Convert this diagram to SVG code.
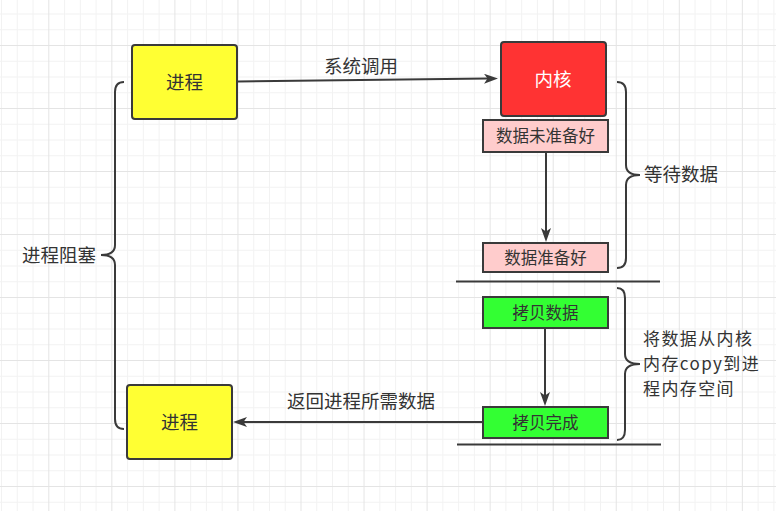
<svg xmlns="http://www.w3.org/2000/svg" width="776" height="511" viewBox="0 0 776 511">
<style>
text{font-family:"Noto Sans CJK SC","Microsoft YaHei",sans-serif;fill:#333333;}
.big{font-size:18.5px;}
.multi{font-size:17px;letter-spacing:1.4px;}
.small{font-size:16.5px;}
.box{stroke:#3a3a3a;stroke-width:2;}
.line{stroke:#3a3a3a;stroke-width:2;fill:none;}
</style>
<defs>
<pattern id="grid" patternUnits="userSpaceOnUse" x="-14.75" y="-18" width="63.05" height="63">
<rect x="15.76" y="0" width="1" height="63" fill="#f2f2f2"/>
<rect x="31.52" y="0" width="1" height="63" fill="#f2f2f2"/>
<rect x="47.28" y="0" width="1" height="63" fill="#f2f2f2"/>
<rect x="0" y="15.75" width="63.05" height="1" fill="#f2f2f2"/>
<rect x="0" y="31.5" width="63.05" height="1" fill="#f2f2f2"/>
<rect x="0" y="47.25" width="63.05" height="1" fill="#f2f2f2"/>
<rect x="0" y="0" width="1" height="63" fill="#e4e4e4"/>
<rect x="0" y="0" width="63.05" height="1" fill="#e4e4e4"/>
</pattern>
<marker id="arrow" viewBox="0 0 14 10" refX="4" refY="5" markerWidth="14" markerHeight="10" markerUnits="userSpaceOnUse" orient="auto">
<path d="M0,0 L14,5 L0,10 L3.5,5 Z" fill="#3a3a3a"/>
</marker>
</defs>
<rect x="0" y="0" width="776" height="511" fill="#ffffff"/>
<rect x="0" y="0" width="776" height="511" fill="url(#grid)"/>

<g id="connectors">
<line class="line" x1="238" y1="81.5" x2="488" y2="78.6" marker-end="url(#arrow)"/>
<line class="line" x1="546" y1="152" x2="546" y2="232" marker-end="url(#arrow)"/>
<line class="line" x1="545" y1="328" x2="545" y2="396" marker-end="url(#arrow)"/>
<line class="line" x1="482" y1="422" x2="243" y2="422" marker-end="url(#arrow)"/>
<text class="big" x="361" y="73" text-anchor="middle">系统调用</text>
<text class="big" x="361" y="408" text-anchor="middle">返回进程所需数据</text>
</g>

<g id="process-top">
<rect class="box" x="132" y="45" width="105" height="74" rx="3" fill="#ffff33"/>
<text class="big" x="184.5" y="88.5" text-anchor="middle">进程</text>
</g>

<g id="kernel">
<rect class="box" x="501" y="42" width="105" height="74" rx="3" fill="#ff3333"/>
<text class="big" x="553" y="85.5" text-anchor="middle" style="fill:#ffffff">内核</text>
</g>

<g id="data-not-ready">
<rect class="box" x="483" y="120" width="125" height="32" fill="#ffcccc"/>
<text class="small" x="545.5" y="142" text-anchor="middle">数据未准备好</text>
</g>

<g id="data-ready">
<rect class="box" x="483" y="243" width="125" height="29" fill="#ffcccc"/>
<text class="small" x="545.5" y="263.5" text-anchor="middle">数据准备好</text>
</g>

<g id="copy-data">
<rect class="box" x="483" y="297" width="125" height="31" fill="#33ff33"/>
<text class="small" x="545.5" y="318.5" text-anchor="middle">拷贝数据</text>
</g>

<g id="copy-done">
<rect class="box" x="483" y="407" width="125" height="31" fill="#33ff33"/>
<text class="small" x="545.5" y="428.5" text-anchor="middle">拷贝完成</text>
</g>

<g id="process-bottom">
<rect class="box" x="127" y="385" width="105" height="74" rx="3" fill="#ffff33"/>
<text class="big" x="179.5" y="428.5" text-anchor="middle">进程</text>
</g>

<g id="separators">
<line class="line" x1="456" y1="281.5" x2="660" y2="281.5"/>
<line class="line" x1="457" y1="444.5" x2="661" y2="444.5"/>
</g>

<g id="brace-wait">
<path class="line" d="M617,82 Q626,82 626,92 L626,165 Q626,175 640,175 Q626,175 626,185 L626,258 Q626,268 617,268"/>
<text class="big" x="644" y="181">等待数据</text>
</g>

<g id="brace-copy">
<path class="line" d="M617,288 Q625,288 625,298 L625,354 Q625,364 640,364 Q625,364 625,374 L625,430 Q625,440 617,440"/>
<text class="multi"><tspan x="643" y="345">将数据从内核</tspan><tspan x="643" y="370">内存copy到进</tspan><tspan x="643" y="395">程内存空间</tspan></text>
</g>

<g id="brace-block">
<path class="line" d="M124,82 Q115,82 115,92 L115,245 Q115,255 101,255 Q115,255 115,265 L115,419 Q115,429 124,429"/>
<text class="big" x="96" y="262" text-anchor="end">进程阻塞</text>
</g>
</svg>
